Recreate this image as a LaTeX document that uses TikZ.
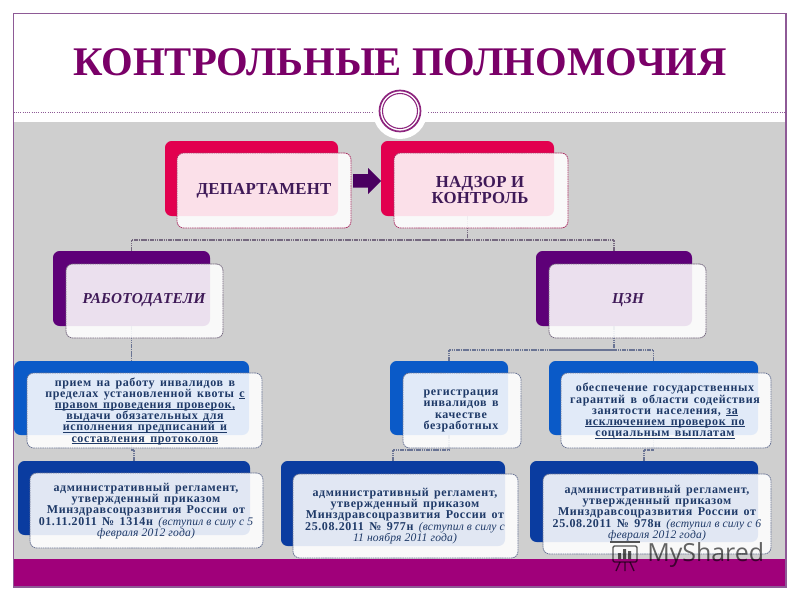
\documentclass[tikz,border=0pt]{standalone}
\usepackage{fontspec}
\newcommand{\uline}[1]{\leavevmode\setbox0=\hbox{#1}\rlap{\rule[-1.1pt]{\wd0}{0.4pt}}\box0 }
\setmainfont{Liberation Serif}
\newfontfamily\wmfont{Open Sans}
\newfontfamily\bodyfont[LetterSpace=5,WordSpace=1.5]{Liberation Serif}
\newfontfamily\notefont[LetterSpace=1.5]{Liberation Serif}
\newfontfamily\headfont[LetterSpace=1.5]{Liberation Serif}
\definecolor{framec}{HTML}{8E5A96}
\definecolor{grayc}{HTML}{CFCFCF}
\definecolor{bandc}{HTML}{A0007A}
\definecolor{titlec}{HTML}{7A0068}
\definecolor{pinkc}{HTML}{E2004F}
\definecolor{violetc}{HTML}{5E0078}
\definecolor{arrowc}{HTML}{4A0060}
\definecolor{bluea}{HTML}{0A5AC8}
\definecolor{blueb}{HTML}{0A3CA0}
\definecolor{txtp}{HTML}{3F1A58}
\definecolor{txtb}{HTML}{1F3A68}
\definecolor{linec}{HTML}{75687F}
\definecolor{lineb}{HTML}{6A7494}
\tikzset{
  x=0.75pt,y=-0.75pt,
  backbox/.style={rounded corners=5pt,draw=none,inner sep=0pt,outer sep=0pt},
  frontbox/.style={rounded corners=5pt,fill=white,fill opacity=0.88,dash pattern=on 1.2pt off 0.5pt,line width=0.6pt,inner sep=0pt,outer sep=0pt},
  conn/.style={draw=linec,dash pattern=on 1.2pt off 0.5pt,line width=0.9pt},
  connb/.style={draw=lineb,dash pattern=on 1.2pt off 0.5pt,line width=0.8pt},
  head/.style={font=\headfont\bfseries\fontsize{12.6}{12}\selectfont,text=txtp,align=center,inner sep=0pt},
  subhead/.style={font=\headfont\bfseries\itshape\fontsize{11.4}{12}\selectfont,text=txtp,align=center,inner sep=0pt},
  body/.style={font=\bodyfont\bfseries\fontsize{9}{8.4}\selectfont,text=txtb,align=center,inner sep=0pt,execute at begin node={\lineskiplimit=-6pt\relax}},
}
\newcommand{\backnode}[6]{%
  \pgfmathsetmacro\bw{(#4-#2)*0.75}\pgfmathsetmacro\bh{(#5-#3)*0.75}%
  \node[backbox,fill=#6,minimum width=\bw pt,minimum height=\bh pt] (#1) at ({(#2+#4)/2},{(#3+#5)/2}) {};}
\newcommand{\frontnode}[6]{%
  \pgfmathsetmacro\bw{(#4-#2)*0.75}\pgfmathsetmacro\bh{(#5-#3)*0.75}%
  \node[frontbox,draw=#6,minimum width=\bw pt,minimum height=\bh pt] (#1) at ({(#2+#4)/2},{(#3+#5)/2}) {};}
\newcommand{\itnote}[1]{{\notefont\mdseries\itshape\fontsize{8.7}{8.4}\selectfont #1}}
\begin{document}
\begin{tikzpicture}
\useasboundingbox (0,0) rectangle (800,600);
\fill[white] (0,0) rectangle (800,600);
% frame and areas
\fill[grayc] (13.5,122) rectangle (786,559);
\fill[bandc] (13.5,559) rectangle (786,587);
\draw[framec,line width=0.9pt] (13.5,13.5) rectangle (786,587);
\draw[framec,densely dotted,line width=0.7pt] (13.5,112) -- (786,112);
\fill[white] (400,112) circle (27);
\draw[titlec!85!white,line width=1.3pt] (400,111) circle (20.5);
\draw[titlec!85!white,line width=0.8pt] (400,111) circle (17.5);
\node[font=\bfseries\fontsize{30.5}{32}\selectfont,text=titlec,inner sep=0pt] (title) at (400,62) {КОНТРОЛЬНЫЕ ПОЛНОМОЧИЯ};
% back boxes
\backnode{depB}{165}{141}{338}{216}{pinkc}
\backnode{nadB}{381}{141}{554}{216}{pinkc}
\backnode{rabB}{53}{251}{210}{326}{violetc}
\backnode{czB}{536}{251}{692}{326}{violetc}
\backnode{priB}{14}{361}{249}{435}{bluea}
\backnode{regB}{390}{361}{508}{435}{bluea}
\backnode{obB}{549}{361}{758}{435}{bluea}
\backnode{aaB}{18}{461}{250}{535}{blueb}
\backnode{abB}{281}{461}{505}{546}{blueb}
\backnode{acB}{530}{461}{758}{542}{blueb}
% connectors
\coordinate (busA) at (400,240);
\coordinate (busB) at (550,350);
\coordinate (busC) at (420,450);
\coordinate (busD) at (648,450);
\coordinate (busE) at (133,450);
\draw[conn] (nadB.south) |- (busA);
\draw[conn] (rabB.north) |- (busA);
\draw[conn] (czB.north) |- (busA);
\draw[connb] (rabB.south) -- (priB.north);
\draw[connb] (priB.south) |- (busE);
\draw[connb] (aaB.north) |- (busE);
\draw[connb] (czB.south) |- (busB);
\draw[connb] (regB.north) |- (busB);
\draw[connb] (obB.north) |- (busB);
\draw[connb] (regB.south) |- (busC);
\draw[connb] (abB.north) |- (busC);
\draw[connb] (obB.south) |- (busD);
\draw[connb] (acB.north) |- (busD);
% front boxes
\frontnode{depF}{177}{153}{351}{228}{pinkc!50!linec}
\frontnode{nadF}{394}{153}{568}{228}{pinkc!50!linec}
\frontnode{rabF}{66}{264}{223}{338}{linec}
\frontnode{czF}{549}{264}{706}{338}{linec}
\frontnode{priF}{27}{373}{262}{448}{lineb}
\frontnode{regF}{403}{373}{521}{448}{lineb}
\frontnode{obF}{561}{373}{771}{448}{lineb}
\frontnode{aaF}{30}{473}{263}{548}{lineb}
\frontnode{abF}{293}{474}{518}{558}{lineb}
\frontnode{acF}{543}{474}{771}{554}{lineb}
% arrow
\fill[arrowc] (353,174) -- (368,174) -- (368,168) -- (381,181) -- (368,194) -- (368,187.5) -- (353,187.5) -- cycle;
% texts
\node[head] (t1) at (264,191) {ДЕПАРТАМЕНТ};
\node[head] (t2) at (480,190.5) {НАДЗОР И\\КОНТРОЛЬ};
\node[subhead] (t3) at (144,300) {РАБОТОДАТЕЛИ};
\node[subhead] (t4) at (628,300) {ЦЗН};
\node[body] (t5) at (145,411) {прием на работу инвалидов в\\пределах установленной квоты \uline{с}\\\uline{правом проведения проверок,}\\\uline{выдачи обязательных для}\\\uline{исполнения предписаний и}\\\uline{составления протоколов}};
\node[body] (t6) at (461,411) {регистрация\\инвалидов в\\качестве\\безработных};
\node[body] (t7) at (665,411) {обеспечение государственных\\гарантий в области содействия\\занятости населения, \uline{за}\\\uline{исключением проверок по}\\\uline{социальным выплатам}};
\node[body] (t8) at (146,511) {административный регламент,\\утвержденный приказом\\Минздравсоцразвития России от\\01.11.2011 № 1314н \itnote{(вступил в силу с 5}\\\itnote{февраля 2012 года)}};
\node[body] (t9) at (405,516) {административный регламент,\\утвержденный приказом\\Минздравсоцразвития России от\\25.08.2011 № 977н \itnote{(вступил в силу с}\\\itnote{11 ноября 2011 года)}};
\node[body] (t10) at (657,513) {административный регламент,\\утвержденный приказом\\Минздравсоцразвития России от\\25.08.2011 № 978н \itnote{(вступил в силу с 6}\\\itnote{февраля 2012 года)}};
% watermark
\node[font=\wmfont\fontsize{18.7}{18}\selectfont,text=black,text opacity=0.6,inner sep=0pt,anchor=west] (wm) at (647,555) {MyShared};
\begin{scope}[black,opacity=0.65]
\draw[line width=1pt,rounded corners=1pt] (613,546) rectangle (637,562);
\draw[line width=1.4pt] (610,542) -- (640,542);
\draw[line width=1pt] (620,562) -- (616,571) (630,562) -- (634,571) (625,562) -- (625,571);
\fill (618,553) rectangle (621,559) (623,549) rectangle (626,559) (628,551) rectangle (631,559);
\end{scope}
\end{tikzpicture}
\end{document}
